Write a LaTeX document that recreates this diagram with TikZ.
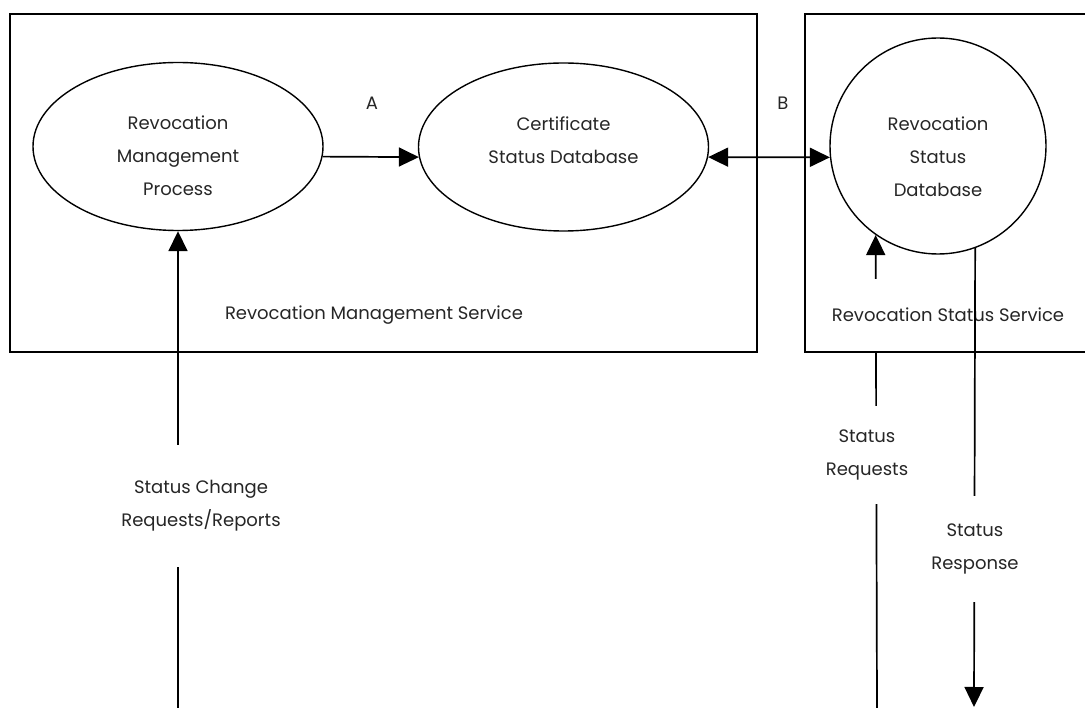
\documentclass[tikz,border=0pt]{standalone}
\usepackage{fontspec}
\setmainfont{Poppins}
\usetikzlibrary{arrows.meta, positioning, shapes.geometric}
\tikzset{
  service/.style={draw, line width=1.7pt},
  process/.style={draw, line width=1.4pt, ellipse, minimum width=290pt, minimum height=168pt, inner sep=0pt},
  store/.style={draw, line width=1.4pt, circle, minimum size=216pt, inner sep=0pt},
  txt/.style={font=\fontsize{18}{33}\selectfont, text=black!85, align=center, inner sep=0pt},
  cover/.style={txt, fill=white},
  myarrow/.style={-{Triangle[length=20pt, width=19pt]}, line width=1.7pt},
  bothways/.style={{Triangle[length=20pt, width=19pt]}-{Triangle[length=20pt, width=19pt]}, line width=1.7pt}
}
\begin{document}
\begin{tikzpicture}[x=1pt, y=-1pt]
  \useasboundingbox (0,0) rectangle (1085,708);

  % Service boundaries
  \draw[service] (10,14) rectangle (757,352);
  \draw[service] (1095,14) -- (805,14) -- (805,352) -- (1095,352);

  % Processes and databases
  \node[process, label={[txt, yshift=-9pt]center:Revocation\\Management\\Process}] (proc) at (178,146.5) {};
  \node[process, label={[txt, yshift=7pt]center:Certificate\\Status Database}] (csdb) at (563.5,147) {};
  \node[store, label={[txt, yshift=-11pt]center:Revocation\\Status\\Database}] (rsdb) at (938,146) {};

  \node[txt] (lblA) at (372,103) {A};
  \node[txt] (lblB) at (783,103) {B};

  % Free ends at the bottom edge
  \coordinate (chgin) at (178,708);
  \coordinate (reqin) at (877,708);
  \coordinate (respout) at (974,707);

  % Flows between processes
  \draw[myarrow] (proc.-4.6) -- (csdb.184.6);
  \draw[bothways] (csdb.-4.6) -- (rsdb.186.4);

  % Incoming requests
  \draw[myarrow] (chgin) -- (proc.south);
  \draw[myarrow] (reqin) -- (rsdb.235.6);

  % Service names
  \node[cover] (mgmtsvc) at (374,315) {Revocation Management Service};
  \node[cover, minimum width=268pt, minimum height=72pt] (statsvc) at (948,315) {Revocation Status Service};

  % Outgoing response
  \draw[myarrow] (rsdb.-70.5) -- (respout);

  % Flow names
  \node[cover, minimum width=164pt, minimum height=121pt] (chglbl) at (201,506) {Status Change\\Requests/Reports};
  \node[cover, minimum width=90pt, minimum height=98pt] (reqlbl) at (867,455) {Status\\Requests};
  \node[cover, minimum width=94pt, minimum height=106pt] (resplbl) at (975,549) {Status\\Response};
\end{tikzpicture}
\end{document}
